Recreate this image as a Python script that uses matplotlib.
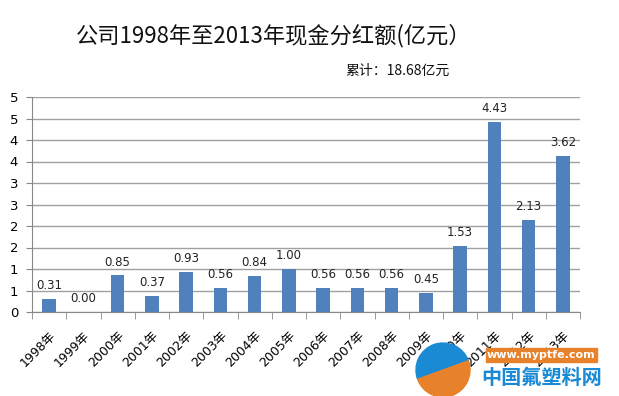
import matplotlib.pyplot as plt
from matplotlib.patches import Wedge, FancyBboxPatch
import math

plt.rcParams['font.family'] = ['DejaVu Sans', 'Noto Sans CJK SC']

anos = ['1998年', '1999年', '2000年', '2001年', '2002年', '2003年', '2004年', '2005年',
        '2006年', '2007年', '2008年', '2009年', '2010年', '2011年', '2012年', '2013年']
dividendos = [0.31, 0.00, 0.85, 0.37, 0.93, 0.56, 0.84, 1.00,
              0.56, 0.56, 0.56, 0.45, 1.53, 4.43, 2.13, 3.62]
y_ticks = [0, 0.5, 1, 1.5, 2, 2.5, 3, 3.5, 4, 4.5, 5]

W, H = 619, 396
fig = plt.figure(figsize=(W / 100, H / 100), dpi=100)
ax = fig.add_axes([32 / W, (H - 312) / H, (580 - 32) / W, (312 - 97) / H])

x = list(range(len(anos)))
ax.bar(x, dividendos, width=0.39, color='#4f81bd', zorder=3)

for xi, v in zip(x, dividendos):
    ax.annotate(f'{v:.2f}', (xi, v), xytext=(0, 5), textcoords='offset points',
                ha='center', va='bottom', fontsize=8.5, color='#222222')

ax.set_xlim(-0.5, len(anos) - 0.5)
ax.set_ylim(0, 5)
ax.set_yticks(y_ticks)
# rótulos arredondados como no Excel (0.5 -> 1, 1.5 -> 2 ...)
ax.set_yticklabels([str(int(math.floor(t + 0.5))) for t in y_ticks], fontsize=9.5)
ax.set_xticks(x)
ax.set_xticklabels(anos, rotation=45, ha='right', rotation_mode='anchor', fontsize=9)
ax.set_xticks([i - 0.5 for i in range(len(anos) + 1)], minor=True)
ax.tick_params(axis='x', which='major', length=0, pad=12)
ax.tick_params(axis='x', which='minor', length=5, color='#888888')
ax.tick_params(axis='y', length=4, color='#888888', pad=6)

ax.grid(axis='y', color='#a0a0a0', linewidth=1, zorder=0)
for s in ['top', 'right']:
    ax.spines[s].set_visible(False)
ax.spines['left'].set_color('#888888')
ax.spines['bottom'].set_color('#888888')

fig.text(274 / W, 1 - 36 / H, '公司1998年至2013年现金分红额(亿元）', ha='center', va='center',
         fontsize=16, family=['Noto Sans CJK SC'], weight='medium', color='#111111')
fig.text(397 / W, 1 - 71 / H, '累计：18.68亿元', ha='center', va='center',
         fontsize=10, family=['Noto Sans CJK SC'], weight='medium', color='#111111')

# marca d'água
fig.patches.append(Wedge((443, H - 370), 27, 20, 200, color='#1a8ad4',
                         transform=None, figure=fig))
fig.patches.append(Wedge((443, H - 370), 27, 200, 380, color='#e8822a',
                         transform=None, figure=fig))
fig.patches.append(FancyBboxPatch((486 / W, 1 - 362 / H), 111 / W, 14 / H,
                                  boxstyle='square,pad=0', color='#e8822a',
                                  transform=fig.transFigure, figure=fig))
fig.text(541 / W, 1 - 355 / H, 'www.myptfe.com', ha='center', va='center',
         fontsize=8, color='white', weight='bold')
fig.text(542 / W, 1 - 377 / H, '中国氟塑料网', ha='center', va='center',
         fontsize=14.5, color='#1a8ad4', weight='bold', family=['Noto Sans CJK SC'])

fig.savefig('out.png', dpi=100)
